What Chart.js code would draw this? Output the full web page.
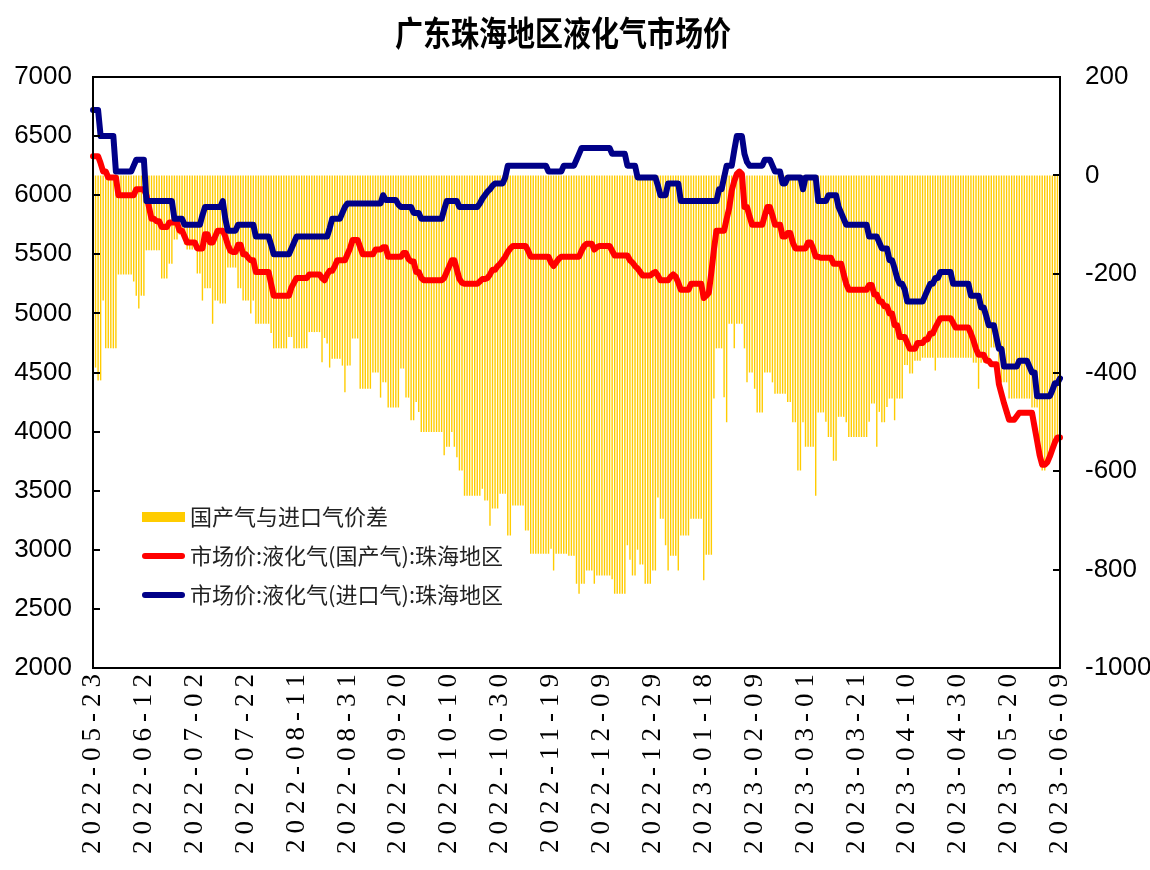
<!DOCTYPE html>
<html>
<head>
<meta charset="utf-8">
<title>广东珠海地区液化气市场价</title>
<script src="https://cdn.jsdelivr.net/npm/chart.js@4.4.0/dist/chart.umd.min.js"></script>
<style>
  html, body { margin: 0; padding: 0; background: #fff; }
  #wrap { width: 1150px; height: 870px; position: relative; }
</style>
</head>
<body>
<div id="wrap"><canvas id="chart"></canvas></div>
<script>
const chartTitle = '广东珠海地区液化气市场价';

// daily categories, 2 days missing around the spring festival
const startDate = '2022-05-23';
const endDate = '2023-06-09';
const missingDates = ['2023-01-22', '2023-01-23'];

const tickLabels = [
    '2022-05-23', '2022-06-12', '2022-07-02', '2022-07-22', '2022-08-11',
    '2022-08-31', '2022-09-20', '2022-10-10', '2022-10-30', '2022-11-19',
    '2022-12-09', '2022-12-29', '2023-01-18', '2023-02-09', '2023-03-01',
    '2023-03-21', '2023-04-10', '2023-04-30', '2023-05-20', '2023-06-09'
];

const seriesLabels = ['国产气与进口气价差', '市场价:液化气(国产气):珠海地区', '市场价:液化气(进口气):珠海地区'];

// 市场价:液化气(国产气):珠海地区 (left axis)
const domesticPrice = [
    6330,6330,6330,6270,6200,6200,6150,6150,6150,6150,6000,6000,6000,6000,6000,6000,6000,6050,6050,6050,
    6050,6000,5900,5800,5800,5780,5780,5730,5730,5730,5770,5770,5770,5770,5700,5700,5650,5600,5600,5600,
    5600,5550,5550,5550,5670,5670,5600,5600,5650,5700,5700,5700,5650,5580,5530,5520,5520,5580,5580,5500,
    5500,5470,5450,5450,5350,5350,5350,5350,5350,5350,5250,5150,5150,5150,5150,5150,5150,5150,5220,5260,
    5300,5300,5300,5300,5300,5330,5330,5330,5330,5330,5300,5280,5330,5360,5360,5400,5450,5450,5450,5450,
    5500,5550,5620,5620,5620,5560,5500,5500,5500,5500,5500,5540,5540,5540,5560,5560,5480,5480,5480,5480,
    5480,5480,5510,5510,5460,5440,5440,5350,5350,5300,5280,5280,5280,5280,5280,5280,5280,5280,5300,5350,
    5400,5450,5450,5370,5290,5260,5250,5250,5250,5250,5250,5250,5270,5290,5290,5300,5330,5370,5370,5400,
    5420,5450,5480,5520,5550,5570,5570,5570,5570,5570,5570,5530,5480,5480,5480,5480,5480,5480,5480,5480,
    5430,5400,5430,5460,5480,5480,5480,5480,5480,5480,5480,5480,5530,5570,5590,5590,5590,5540,5560,5570,
    5570,5570,5570,5570,5530,5490,5490,5490,5490,5490,5490,5450,5430,5400,5380,5350,5320,5320,5320,5320,
    5340,5350,5320,5280,5280,5280,5280,5310,5330,5310,5260,5200,5200,5200,5200,5250,5250,5250,5250,5250,
    5130,5150,5175,5350,5540,5700,5700,5700,5700,5800,5890,6040,6120,6180,6200,6180,5900,5900,5820,5750,
    5750,5750,5750,5750,5830,5900,5900,5830,5750,5750,5750,5650,5650,5680,5680,5600,5550,5550,5550,5550,
    5550,5600,5600,5550,5480,5480,5470,5470,5470,5470,5470,5420,5420,5420,5420,5330,5250,5200,5200,5200,
    5200,5200,5200,5200,5200,5240,5240,5160,5160,5100,5100,5060,5060,5000,5000,4900,4900,4800,4800,4800,
    4750,4700,4700,4700,4750,4750,4750,4780,4780,4830,4830,4880,4920,4960,4960,4960,4960,4960,4920,4880,
    4880,4880,4880,4880,4880,4830,4770,4700,4650,4650,4650,4600,4600,4570,4570,4570,4400,4320,4240,4170,
    4100,4100,4100,4130,4160,4160,4160,4160,4160,4160,4040,3920,3800,3720,3720,3740,3790,3850,3910,3950,3950
];

// 市场价:液化气(进口气):珠海地区 (left axis)
const importPrice = [
    6720,6720,6720,6500,6500,6500,6500,6500,6500,6200,6200,6200,6200,6200,6200,6200,6250,6300,6300,6300,
    6300,5950,5950,5950,5950,5950,5950,5950,5950,5950,5950,5950,5800,5800,5800,5800,5750,5750,5750,5750,
    5750,5750,5750,5830,5900,5900,5900,5900,5900,5900,5900,5950,5800,5700,5700,5700,5700,5750,5750,5750,
    5750,5750,5750,5750,5650,5650,5650,5650,5650,5650,5580,5500,5500,5500,5500,5500,5500,5500,5550,5600,
    5650,5650,5650,5650,5650,5650,5650,5650,5650,5650,5650,5650,5650,5720,5800,5800,5800,5800,5850,5900,
    5930,5930,5930,5930,5930,5930,5930,5930,5930,5930,5930,5930,5930,5930,6000,5960,5960,5960,5960,5960,
    5920,5900,5900,5900,5900,5900,5850,5850,5850,5800,5800,5800,5800,5800,5800,5800,5800,5800,5880,5950,
    5950,5950,5950,5950,5900,5900,5900,5900,5900,5900,5900,5900,5930,5970,6000,6030,6050,6080,6100,6100,
    6100,6100,6150,6250,6250,6250,6250,6250,6250,6250,6250,6250,6250,6250,6250,6250,6250,6250,6250,6200,
    6200,6200,6200,6200,6200,6250,6250,6250,6250,6250,6300,6350,6400,6400,6400,6400,6400,6400,6400,6400,
    6400,6400,6400,6400,6350,6350,6350,6350,6350,6350,6250,6250,6250,6250,6150,6150,6150,6150,6150,6150,
    6150,6150,6080,6000,6000,6000,6100,6100,6100,6100,6100,5950,5950,5950,5950,5950,5950,5950,5950,5950,
    5950,5950,5950,5950,5950,5950,6050,6050,6150,6250,6250,6250,6380,6500,6500,6500,6350,6280,6250,6250,
    6250,6250,6250,6250,6300,6300,6300,6250,6200,6200,6200,6100,6100,6150,6150,6150,6150,6150,6150,6050,
    6150,6150,6150,6150,6150,5950,5950,5950,5950,6000,6000,6000,6000,5900,5850,5800,5750,5750,5750,5750,
    5750,5750,5750,5750,5750,5650,5650,5650,5650,5600,5550,5550,5550,5450,5450,5380,5300,5250,5250,5200,
    5100,5100,5100,5100,5100,5100,5100,5150,5200,5250,5250,5300,5300,5350,5350,5350,5350,5350,5250,5250,
    5250,5250,5250,5250,5250,5150,5150,5150,5150,5050,5050,4980,4900,4900,4900,4800,4700,4700,4550,4550,
    4550,4550,4550,4550,4600,4600,4600,4600,4550,4500,4500,4300,4300,4300,4300,4300,4300,4350,4410,4410,4450
];

// 国产气与进口气价差 (right axis)
const priceSpread = [
    -390,-390,-416,-416,-254,-351,-351,-351,-351,-351,-201,-201,-201,-201,-201,-201,-215,-244,-270,-244,
    -244,-152,-152,-152,-152,-152,-152,-209,-209,-209,-179,-179,-130,-130,-120,-120,-140,-150,-150,-150,
    -150,-199,-199,-254,-229,-229,-229,-301,-254,-254,-260,-260,-260,-187,-187,-187,-187,-229,-229,-254,
    -254,-254,-280,-254,-301,-301,-301,-301,-301,-301,-320,-351,-351,-351,-351,-351,-351,-328,-328,-351,
    -351,-351,-351,-351,-351,-318,-318,-318,-318,-318,-379,-330,-341,-390,-372,-372,-372,-372,-386,-440,
    -386,-386,-331,-331,-331,-433,-433,-433,-433,-433,-400,-400,-400,-451,-420,-420,-471,-471,-471,-471,
    -471,-392,-392,-451,-451,-497,-497,-460,-480,-521,-521,-521,-521,-521,-521,-521,-521,-521,-568,-551,
    -551,-521,-551,-572,-599,-599,-650,-650,-650,-650,-650,-650,-650,-636,-660,-660,-711,-676,-676,-676,
    -646,-646,-646,-731,-731,-670,-670,-670,-670,-670,-721,-721,-768,-768,-768,-768,-768,-768,-768,-768,
    -758,-802,-768,-768,-768,-768,-768,-772,-772,-772,-829,-849,-829,-829,-802,-802,-802,-829,-812,-812,
    -812,-812,-812,-812,-820,-849,-849,-849,-849,-849,-751,-780,-812,-812,-760,-790,-790,-829,-829,-829,
    -802,-802,-654,-697,-697,-751,-802,-772,-772,-772,-802,-731,-731,-731,-731,-697,-697,-697,-697,-697,
    -822,-770,-770,-770,-453,-351,-351,-351,-450,-501,-301,-301,-351,-301,-301,-301,-351,-420,-400,-400,
    -433,-481,-481,-481,-400,-400,-400,-420,-443,-443,-443,-443,-443,-460,-460,-501,-501,-599,-599,-501,
    -551,-551,-551,-551,-650,-481,-481,-481,-500,-531,-531,-579,-579,-490,-490,-490,-501,-531,-531,-531,
    -531,-531,-531,-531,-531,-500,-463,-463,-551,-480,-501,-501,-470,-453,-453,-497,-453,-453,-453,-385,
    -385,-402,-402,-376,-376,-376,-370,-370,-370,-370,-370,-396,-370,-370,-370,-370,-370,-370,-370,-370,
    -370,-370,-370,-370,-370,-370,-380,-380,-433,-380,-380,-376,-376,-349,-349,-349,-420,-420,-420,-420,
    -453,-453,-453,-453,-453,-453,-453,-453,-453,-471,-471,-471,-551,-599,-599,-575,-575,-551,-531,-531,-531
];

const colors = ['#FFCC00', '#FF0000', '#000088'];

function buildDates() {
    const out = [];
    const d = new Date(startDate + 'T00:00:00Z');
    const end = new Date(endDate + 'T00:00:00Z');
    while (d <= end) {
        const s = d.toISOString().slice(0, 10);
        if (!missingDates.includes(s)) out.push(s);
        d.setUTCDate(d.getUTCDate() + 1);
    }
    return out;
}
const dates = buildDates();

const numFont = { family: '"Liberation Sans", Arial, sans-serif', size: 26 };
const cjkFont = '"Noto Sans CJK SC", "Noto Sans", sans-serif';
const plainNumber = v => String(v);

const decorPlugin = {
    id: 'decor',
    afterUpdate(chart) {
        // spread out the date labels like the original export
        const sx = chart.scales.x;
        if (!sx._spaced) {
            const orig = sx.drawLabels;
            sx.drawLabels = function (area) {
                const c = this.ctx;
                c.save();
                c.letterSpacing = '6px';
                orig.call(this, area);
                c.restore();
            };
            sx._spaced = true;
        }
    },
    afterDraw(chart) {
        const { ctx, chartArea: a, scales } = chart;
        ctx.save();

        // title (slightly tall, like the reference)
        ctx.save();
        ctx.fillStyle = '#000';
        ctx.font = 'bold 28px ' + cjkFont;
        ctx.textAlign = 'center';
        ctx.textBaseline = 'middle';
        ctx.translate(563, 33);
        ctx.scale(1, 1.2);
        ctx.fillText(chartTitle, 0, 0);
        ctx.restore();

        // inner tick marks
        ctx.strokeStyle = '#000';
        ctx.lineWidth = 2;
        ctx.beginPath();
        scales.y.ticks.forEach(t => {
            const y = Math.round(scales.y.getPixelForValue(t.value));
            ctx.moveTo(a.left, y);
            ctx.lineTo(a.left + 7, y);
        });
        scales.y1.ticks.forEach(t => {
            const y = Math.round(scales.y1.getPixelForValue(t.value));
            ctx.moveTo(a.right, y);
            ctx.lineTo(a.right - 7, y);
        });
        ctx.stroke();

        // plot frame
        ctx.strokeRect(a.left, a.top, a.right - a.left, a.bottom - a.top);

        // legend
        const legendX = 142, markW = 43;
        const rows = [517, 556, 595];
        ctx.font = '22px ' + cjkFont;
        ctx.textAlign = 'left';
        ctx.textBaseline = 'middle';
        rows.forEach((y, i) => {
            if (i === 0) {
                ctx.fillStyle = colors[0];
                ctx.fillRect(legendX, y - 5, markW, 10);
            } else {
                ctx.strokeStyle = colors[i];
                ctx.lineWidth = 6;
                ctx.lineCap = 'round';
                ctx.beginPath();
                ctx.moveTo(legendX + 3, y);
                ctx.lineTo(legendX + markW - 3, y);
                ctx.stroke();
            }
            ctx.fillStyle = '#222';
            ctx.fillText(seriesLabels[i], legendX + markW + 5, y);
        });

        ctx.restore();
    }
};

const ctx = document.getElementById('chart').getContext('2d');
const chart = new Chart(ctx, {
    type: 'bar',
    data: {
        labels: dates,
        datasets: [
            {
                type: 'line',
                label: seriesLabels[2],
                data: importPrice,
                yAxisID: 'y',
                borderColor: colors[2],
                borderWidth: 6,
                pointRadius: 0,
                tension: 0,
                borderJoinStyle: 'round',
                borderCapStyle: 'round',
                order: 0
            },
            {
                type: 'line',
                label: seriesLabels[1],
                data: domesticPrice,
                yAxisID: 'y',
                borderColor: colors[1],
                borderWidth: 6,
                pointRadius: 0,
                tension: 0,
                borderJoinStyle: 'round',
                borderCapStyle: 'round',
                order: 1
            },
            {
                type: 'bar',
                label: seriesLabels[0],
                data: priceSpread,
                yAxisID: 'y1',
                backgroundColor: colors[0],
                categoryPercentage: 1,
                barPercentage: 0.55,
                order: 2
            }
        ]
    },
    options: {
        responsive: true,
        maintainAspectRatio: false,
        animation: false,
        layout: { padding: { top: 77, left: 0, right: 0, bottom: 0 } },
        plugins: {
            legend: { display: false },
            title: { display: false },
            tooltip: { enabled: false }
        },
        scales: {
            x: {
                type: 'category',
                offset: false,
                grid: { display: false, drawTicks: false },
                border: { display: false },
                ticks: {
                    autoSkip: false,
                    minRotation: 90,
                    maxRotation: 90,
                    padding: 0,
                    color: '#000',
                    font: { family: '"Liberation Serif", "DejaVu Serif", serif', size: 27 },
                    callback: function (value, index) {
                        const d = dates[index];
                        return tickLabels.includes(d) ? d : '';
                    }
                },
                afterFit: s => { s.height = 202; }
            },
            y: {
                position: 'left',
                min: 2000,
                max: 7000,
                grid: { display: false, drawTicks: false },
                border: { display: false },
                ticks: { stepSize: 500, padding: 21, color: '#000', font: numFont, callback: plainNumber },
                afterFit: s => { s.width = 93; }
            },
            y1: {
                position: 'right',
                min: -1000,
                max: 200,
                grid: { display: false, drawTicks: false },
                border: { display: false },
                ticks: { stepSize: 200, padding: 25, color: '#000', font: numFont, callback: plainNumber },
                afterFit: s => { s.width = 90; }
            }
        }
    },
    plugins: [decorPlugin]
});
</script>
</body>
</html>
